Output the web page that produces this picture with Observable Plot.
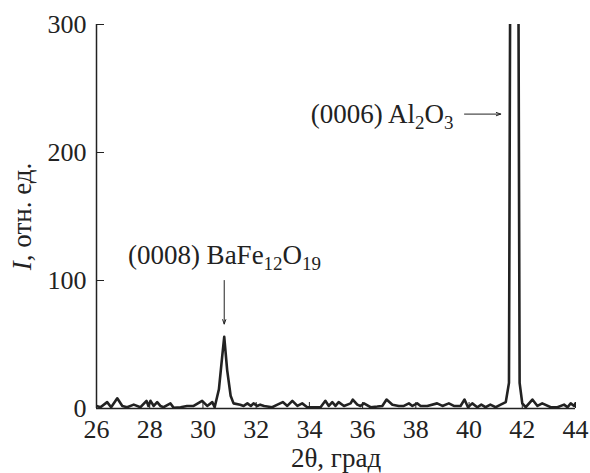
<!DOCTYPE html>
<html><head><meta charset="utf-8">
<script src="https://cdn.jsdelivr.net/npm/d3@7"></script>
<script src="https://cdn.jsdelivr.net/npm/@observablehq/plot@0.6"></script>
<style>body{margin:0;background:#fff} svg text{font-family:"Liberation Serif",serif;font-variant:normal}</style>
</head><body><div id="chart"></div>
<script>
const angles = [26.0,26.15,26.4,26.55,26.78,26.97,27.15,27.4,27.65,27.88,27.95,28.03,28.15,28.28,28.4,28.52,28.78,28.9,29.16,29.4,29.65,29.97,30.16,30.35,30.44,30.6,30.72,30.8,30.91,31.04,31.15,31.4,31.53,31.67,31.8,31.9,32.04,32.15,32.3,32.6,32.8,33.0,33.17,33.36,33.55,33.73,33.92,34.17,34.42,34.6,34.73,34.86,34.98,35.1,35.3,35.55,35.63,35.8,35.92,36.05,36.3,36.55,36.74,36.9,37.12,37.36,37.55,37.74,37.87,38.05,38.18,38.43,38.8,39.0,39.24,39.43,39.68,39.83,39.96,40.12,40.31,40.46,40.62,40.8,41.0,41.19,41.38,41.5,41.57,41.83,41.9,42.0,42.13,42.38,42.57,42.75,43.07,43.32,43.57,43.7,43.82,43.95,44.0];
const intensity = [2,1,5,1,8,2,1,3,1,6,2,6,2,5,2,1,4,0.5,1,2,2,6,2,5,1,15,40,56,30,10,4,3,2,4,2,4,2,3,2,1,3,5,2,6,2,4,1,1,1,6,2,5,2,5,2,4,7,3,2,4,1,1.5,2,7,3,2,2,4,2,4,2,2,4,2,4,2,2,7,1,4,1,3,1,3,1,3,5,20,500,500,20,4,1,7,2,4,1,1,3,1,4,2,4];
const xTicks = [26,28,30,32,34,36,38,40,42,44];
const yTicks = [0,100,200,300];
const xLabel = "2θ, град";
const yLabel = "I, отн. ед.";
const bafeLabel = "(0008) BaFe{12}O{19}";
const bafeX = 30.81, bafeY = 120;
const aloLabel = "(0006) Al{2}O{3}";
const aloX = 39.42, aloY = 230;
const arrowX1 = [30.8, 39.83];
const arrowY1 = [100, 230];
const arrowX2 = [30.8, 41.19];
const arrowY2 = [66, 230];

const data = angles.map((a, i) => ({a, v: intensity[i]}));
const arrows = arrowX1.map((x1, i) => ({x1, y1: arrowY1[i], x2: arrowX2[i], y2: arrowY2[i]}));

const ink = "#222";
const ff = "Liberation Serif";
const plot = Plot.plot({
  width: 590, height: 473,
  marginLeft: 96, marginRight: 15, marginTop: 24, marginBottom: 65,
  style: {fontFamily: ff, fontSize: "26px", color: ink, background: "#fff"},
  x: {domain: [26, 44]},
  y: {domain: [0, 300]},
  marks: [
    Plot.axisX({ticks: xTicks, tickSize: -6, tickPadding: 17, label: null, tickFormat: d => String(d), fontSize: 26, fontFamily: ff, fontVariant: "normal", stroke: ink}),
    Plot.axisY({ticks: yTicks, tickSize: -8, tickPadding: 18, label: null, tickFormat: d => String(d), fontSize: 26, fontFamily: ff, fontVariant: "normal", stroke: ink}),
    Plot.ruleX([26], {y1: 0, y2: 300, stroke: ink, strokeWidth: 1.5}),
    Plot.ruleY([0], {stroke: ink, strokeWidth: 1.5}),
    Plot.line(data, {x: "a", y: "v", stroke: ink, strokeWidth: 2.6, clip: true, strokeLinejoin: "round"}),
    Plot.arrow(arrows, {x1: "x1", y1: "y1", x2: "x2", y2: "y2", stroke: ink, strokeWidth: 1, headLength: 7, headAngle: 40}),
    Plot.text([bafeLabel], {x: () => bafeX, y: () => bafeY, textAnchor: "middle", fontSize: 27, fontFamily: ff, fill: ink}),
    Plot.text([aloLabel], {x: () => aloX, y: () => aloY, textAnchor: "end", fontSize: 27, fontFamily: ff, fill: ink}),
    Plot.text([xLabel], {frameAnchor: "bottom", textAnchor: "middle", lineAnchor: "middle", dy: 49.5, fontSize: 27, fontFamily: ff, fill: ink}),
    Plot.text([yLabel], {frameAnchor: "left", textAnchor: "middle", lineAnchor: "middle", rotate: -90, dx: -74, fontSize: 27, fontFamily: ff, fill: ink})
  ]
});
document.getElementById("chart").appendChild(plot);

// rich text: subscripts in braces, italic I in y label
const svg = d3.select(plot);
svg.selectAll("text").each(function() {
  const el = d3.select(this);
  const s = this.textContent;
  if (s === yLabel) {
    el.text(null);
    el.append("tspan").attr("font-style", "italic").text("I");
    el.append("tspan").text(s.slice(1));
  } else if (s.includes("{")) {
    el.text(null);
    const parts = s.split(/(\{[^}]*\})/).filter(p => p.length);
    let down = false;
    parts.forEach(p => {
      if (p.startsWith("{")) {
        el.append("tspan").attr("font-size", "19px").attr("dy", down ? 0 : 6).text(p.slice(1, -1));
        down = true;
      } else {
        el.append("tspan").attr("dy", down ? -6 : 0).text(p);
        down = false;
      }
    });
  }
});
</script>
</body></html>
